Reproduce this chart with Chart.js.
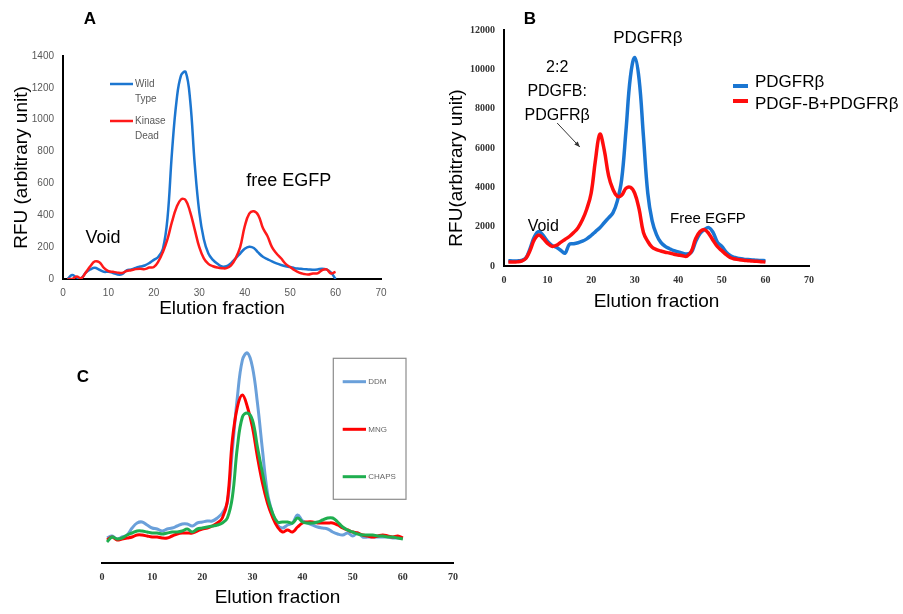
<!DOCTYPE html>
<html>
<head>
<meta charset="utf-8">
<script src="https://cdn.jsdelivr.net/npm/chart.js@4.4.1/dist/chart.umd.min.js"></script>
<style>
  body { margin: 0; background: #fff; width: 903px; height: 614px; position: relative; overflow: hidden; }
  canvas { position: absolute; }
</style>
</head>
<body>
<canvas id="chartA" width="440" height="330" style="left:0;top:0"></canvas>
<canvas id="chartB" width="463" height="330" style="left:440px;top:0"></canvas>
<canvas id="chartC" width="420" height="284" style="left:60px;top:330px"></canvas>
<script>
// elution fractions collected (x axis)
const fractions = [1,2,3,4,5,6,7,8,9,10,11,12,13,14,15,16,17,18,19,20,
  21,22,23,24,25,26,27,28,29,30,31,32,33,34,35,36,37,38,39,40,
  41,42,43,44,45,46,47,48,49,50,51,52,53,54,55,56,57,58,59,60];
const fractionTicks = [0, 10, 20, 30, 40, 50, 60, 70];

// panel A - RFU
const wildType = [0,25,10,5,40,60,70,58,45,45,38,28,30,55,60,70,78,85,100,120,
  140,190,380,800,1120,1280,1300,1120,720,420,250,160,120,95,78,80,100,130,160,190,
  203,195,165,140,125,110,98,88,80,75,68,65,62,60,58,60,65,60,40,0];
const kinaseDead = [0,0,15,5,40,80,110,105,70,50,45,40,38,50,55,62,65,62,72,75,
  110,170,250,360,450,500,495,420,310,200,130,95,80,72,68,68,85,130,200,330,
  410,425,400,320,270,200,160,130,95,75,55,40,32,28,35,35,55,60,35,45];
const rfuTicksA = [0, 200, 400, 600, 800, 1000, 1200, 1400];

// panel B - RFU
const pdgfrb = [270,260,260,280,400,900,1500,1750,1550,1250,1050,950,800,650,1100,1130,1180,1260,1380,1550,
  1750,1950,2200,2450,2700,3300,4400,6900,9600,10600,9500,6600,3700,2300,1600,1200,1000,880,780,720,
  650,610,700,1250,1650,1850,1950,1700,1200,1000,700,520,430,380,350,330,310,290,280,270];
const pdgfbPdgfrb = [200,200,210,250,380,800,1350,1580,1400,1150,1000,1050,1200,1350,1500,1700,1950,2350,2900,3700,
  5400,6700,5900,4600,3900,3550,3600,3950,4000,3700,2900,1700,1250,950,830,760,700,660,600,560,
  520,500,750,1400,1750,1850,1650,1300,980,780,580,420,360,320,290,270,250,240,220,200];
const rfuTicksB = [0, 2000, 4000, 6000, 8000, 10000, 12000];

// panel C - detergents (no y scale shown, relative units)
const ddm = [25,27,24,26,28,35,40,41,38,35,34,32,34,35,37,39,39,37,40,41,
  42,42,45,50,60,113,166,203,210,196,160,113,70,50,38,35,38,40,48,42,
  40,38,36,35,34,31,29,28,30,27,30,26,26,26,26,26,26,25,25,25];
const mng = [23,26,23,24,25,26,28,28,27,26,26,25,25,27,29,30,30,30,32,34,
  35,37,40,45,62,123,156,168,156,136,106,80,60,46,36,31,33,31,36,40,
  41,41,40,40,40,40,38,35,33,31,30,28,27,26,27,28,27,26,27,25];
const chaps = [21,26,24,25,28,30,32,32,31,30,30,29,30,31,31,32,34,31,34,35,
  36,37,38,40,45,66,116,146,150,143,116,90,66,50,41,41,41,40,45,41,
  40,40,41,43,45,45,41,36,33,31,29,28,28,28,27,27,26,26,25,24];
const relRangeC = [0, 220];

const SANS = "'Liberation Sans', Arial, sans-serif";
const SERIF = "'Liberation Serif', 'Times New Roman', serif";

Chart.defaults.font.family = SANS;
Chart.defaults.color = '#000';

// draws panel letters, peak notes, the hand made legends and the arrow
const notesPlugin = {
  id: 'notes',
  afterDatasetsDraw(chart, args, opts) {
    const ctx = chart.ctx;
    const xs = chart.scales.x, ys = chart.scales.y;
    function px(item, xk, yk) {
      if (item.data) return [xs.getPixelForValue(item[xk]), ys.getPixelForValue(item[yk])];
      return [item[xk], item[yk]];
    }
    ctx.save();
    (opts.boxes || []).forEach(function(b) {
      ctx.strokeStyle = b.color;
      ctx.lineWidth = b.width;
      ctx.strokeRect(b.x, b.y, b.w, b.h);
    });
    (opts.keys || []).forEach(function(k) {
      ctx.strokeStyle = chart.data.datasets[k.dataset].borderColor;
      ctx.lineWidth = k.width;
      ctx.beginPath();
      ctx.moveTo(k.x1, k.y);
      ctx.lineTo(k.x2, k.y);
      ctx.stroke();
    });
    (opts.arrows || []).forEach(function(a) {
      const p1 = px(a, 'x1', 'y1'), p2 = px(a, 'x2', 'y2');
      const ang = Math.atan2(p2[1] - p1[1], p2[0] - p1[0]);
      ctx.strokeStyle = '#333';
      ctx.fillStyle = '#333';
      ctx.lineWidth = 1;
      ctx.beginPath();
      ctx.moveTo(p1[0], p1[1]);
      ctx.lineTo(p2[0], p2[1]);
      ctx.stroke();
      ctx.beginPath();
      ctx.moveTo(p2[0], p2[1]);
      ctx.lineTo(p2[0] - 6 * Math.cos(ang - 0.4), p2[1] - 6 * Math.sin(ang - 0.4));
      ctx.lineTo(p2[0] - 6 * Math.cos(ang + 0.4), p2[1] - 6 * Math.sin(ang + 0.4));
      ctx.closePath();
      ctx.fill();
    });
    (opts.texts || []).forEach(function(t) {
      const p = px(t, 'x', 'y');
      ctx.font = t.font;
      ctx.fillStyle = t.color || '#000';
      ctx.textAlign = t.align || 'center';
      ctx.textBaseline = 'middle';
      if (t.rotate) {
        ctx.save();
        ctx.translate(p[0], p[1]);
        ctx.rotate(t.rotate);
        ctx.fillText(t.text, 0, 0);
        ctx.restore();
      } else {
        ctx.fillText(t.text, p[0], p[1]);
      }
    });
    ctx.restore();
  }
};

function plainTick(v) { return String(v); }

// ---------- A ----------
new Chart(document.getElementById('chartA'), {
  type: 'line',
  data: {
    labels: fractions,
    datasets: [
      { label: 'Wild Type', data: wildType, borderColor: '#1c76d0', borderWidth: 2.5, order: 1 },
      { label: 'Kinase Dead', data: kinaseDead, borderColor: '#ff1a1a', borderWidth: 2.5, order: 0 }
    ]
  },
  options: {
    responsive: false,
    animation: false,
    elements: { point: { radius: 0 }, line: { tension: 0.4 } },
    layout: { padding: { top: 56, right: 59, left: 0, bottom: 0 } },
    plugins: {
      legend: { display: false },
      tooltip: { enabled: false },
      notes: {
        keys: [
          { dataset: 0, x1: 110, x2: 133, y: 84, width: 2.5 },
          { dataset: 1, x1: 110, x2: 133, y: 121, width: 2.5 }
        ],
        texts: [
          { text: 'A', x: 90, y: 19, font: 'bold 17px ' + SANS },
          { text: 'Wild', x: 135, y: 84, align: 'left', font: '10px ' + SANS, color: '#595959' },
          { text: 'Type', x: 135, y: 99, align: 'left', font: '10px ' + SANS, color: '#595959' },
          { text: 'Kinase', x: 135, y: 121, align: 'left', font: '10px ' + SANS, color: '#595959' },
          { text: 'Dead', x: 135, y: 136, align: 'left', font: '10px ' + SANS, color: '#595959' },
          { text: 'Void', data: true, x: 8.8, y: 257, font: '18px ' + SANS },
          { text: 'free EGFP', data: true, x: 49.7, y: 615, font: '18px ' + SANS }
        ]
      }
    },
    scales: {
      x: {
        type: 'linear',
        min: fractionTicks[0], max: fractionTicks[fractionTicks.length - 1],
        afterFit: function(s) { s.height = 51; },
        grid: { drawOnChartArea: false, drawTicks: false },
        border: { color: '#000', width: 2 },
        ticks: { stepSize: 10, padding: 8, maxRotation: 0, color: '#595959', font: { size: 10 }, callback: plainTick },
        title: { display: true, text: 'Elution fraction', font: { size: 19 }, padding: { top: 0, bottom: 10 } }
      },
      y: {
        min: rfuTicksA[0], max: rfuTicksA[rfuTicksA.length - 1],
        afterFit: function(s) { s.width = 63; },
        grid: { drawOnChartArea: false, drawTicks: false },
        border: { color: '#000', width: 2 },
        ticks: { stepSize: 200, padding: 9, color: '#595959', font: { size: 10 }, callback: plainTick },
        title: { display: true, text: 'RFU (arbitrary unit)', font: { size: 19 }, padding: { top: 10, bottom: 0 } }
      }
    }
  },
  plugins: [notesPlugin]
});

// ---------- B ----------
new Chart(document.getElementById('chartB'), {
  type: 'line',
  data: {
    labels: fractions,
    datasets: [
      { label: 'PDGFRβ', data: pdgfrb, borderColor: '#1a76d2', borderWidth: 3.5, order: 1 },
      { label: 'PDGF-B+PDGFRβ', data: pdgfbPdgfrb, borderColor: '#ff0d0d', borderWidth: 3.5, order: 0 }
    ]
  },
  options: {
    responsive: false,
    animation: false,
    elements: { point: { radius: 0 }, line: { tension: 0.4 } },
    layout: { padding: { top: 30, right: 94, left: 0, bottom: 0 } },
    plugins: {
      legend: { display: false },
      tooltip: { enabled: false },
      notes: {
        keys: [
          { dataset: 0, x1: 293, x2: 308, y: 86, width: 4 },
          { dataset: 1, x1: 293, x2: 308, y: 101, width: 4 }
        ],
        arrows: [ { data: true, x1: 12.2, y1: 7270, x2: 17.4, y2: 6050 } ],
        texts: [
          { text: 'B', x: 90, y: 19, font: 'bold 17px ' + SANS },
          { text: 'RFU(arbitrary unit)', x: 17, y: 168, rotate: -Math.PI / 2, font: '19px ' + SANS },
          { text: 'PDGFRβ', x: 315, y: 82, align: 'left', font: '17px ' + SANS },
          { text: 'PDGF-B+PDGFRβ', x: 315, y: 104, align: 'left', font: '17px ' + SANS },
          { text: 'PDGFRβ', data: true, x: 33.0, y: 11590, font: '17px ' + SANS },
          { text: '2:2', data: true, x: 12.2, y: 10070, font: '16px ' + SANS },
          { text: 'PDGFB:', data: true, x: 12.2, y: 8850, font: '16px ' + SANS },
          { text: 'PDGFRβ', data: true, x: 12.2, y: 7630, font: '16px ' + SANS },
          { text: 'Void', data: true, x: 9.0, y: 1980, font: '16px ' + SANS },
          { text: 'Free EGFP', data: true, x: 46.8, y: 2390, font: '15px ' + SANS }
        ]
      }
    },
    scales: {
      x: {
        type: 'linear',
        min: fractionTicks[0], max: fractionTicks[fractionTicks.length - 1],
        afterFit: function(s) { s.height = 64; },
        grid: { drawOnChartArea: false, drawTicks: false },
        border: { color: '#000', width: 2 },
        ticks: { stepSize: 10, padding: 8, maxRotation: 0, color: '#333', font: { size: 10, weight: 'bold', family: SERIF }, callback: plainTick },
        title: { display: true, text: 'Elution fraction', font: { size: 19 }, padding: { top: 0, bottom: 17 } }
      },
      y: {
        min: rfuTicksB[0], max: rfuTicksB[rfuTicksB.length - 1],
        afterFit: function(s) { s.width = 64; },
        grid: { drawOnChartArea: false, drawTicks: false },
        border: { color: '#000', width: 2 },
        ticks: { stepSize: 2000, padding: 9, color: '#333', font: { size: 10, weight: 'bold', family: SERIF }, callback: plainTick }
      }
    }
  },
  plugins: [notesPlugin]
});

// ---------- C ----------
new Chart(document.getElementById('chartC'), {
  type: 'line',
  data: {
    labels: fractions,
    datasets: [
      { label: 'DDM', data: ddm, borderColor: '#6aa0da', borderWidth: 3, order: 2 },
      { label: 'MNG', data: mng, borderColor: '#ff0000', borderWidth: 3, order: 1 },
      { label: 'CHAPS', data: chaps, borderColor: '#1fae4f', borderWidth: 3, order: 0 }
    ]
  },
  options: {
    responsive: false,
    animation: false,
    elements: { point: { radius: 0 }, line: { tension: 0.4 } },
    layout: { padding: { top: 13, right: 27, left: 42, bottom: 0 } },
    plugins: {
      legend: { display: false },
      tooltip: { enabled: false },
      notes: {
        boxes: [ { x: 273.3, y: 28.3, w: 72.7, h: 141, color: '#8c8c8c', width: 1.2 } ],
        keys: [
          { dataset: 0, x1: 282.7, x2: 306, y: 51.7, width: 3 },
          { dataset: 1, x1: 282.7, x2: 306, y: 99.3, width: 3 },
          { dataset: 2, x1: 282.7, x2: 306, y: 146.7, width: 3 }
        ],
        texts: [
          { text: 'C', x: 23, y: 47, font: 'bold 17px ' + SANS },
          { text: 'DDM', x: 308.3, y: 51.7, align: 'left', font: '8px ' + SANS, color: '#666' },
          { text: 'MNG', x: 308.3, y: 99.3, align: 'left', font: '8px ' + SANS, color: '#666' },
          { text: 'CHAPS', x: 308.3, y: 146.7, align: 'left', font: '8px ' + SANS, color: '#666' }
        ]
      }
    },
    scales: {
      x: {
        type: 'linear',
        min: fractionTicks[0], max: fractionTicks[fractionTicks.length - 1],
        afterFit: function(s) { s.height = 51; },
        grid: { drawOnChartArea: false, drawTicks: false },
        border: { color: '#000', width: 2 },
        ticks: { stepSize: 10, padding: 8, maxRotation: 0, color: '#333', font: { size: 10, weight: 'bold', family: SERIF }, callback: plainTick },
        title: { display: true, text: 'Elution fraction', font: { size: 19 }, padding: { top: 0, bottom: 5 } }
      },
      y: {
        display: false,
        min: relRangeC[0], max: relRangeC[1]
      }
    }
  },
  plugins: [notesPlugin]
});
</script>
</body>
</html>
